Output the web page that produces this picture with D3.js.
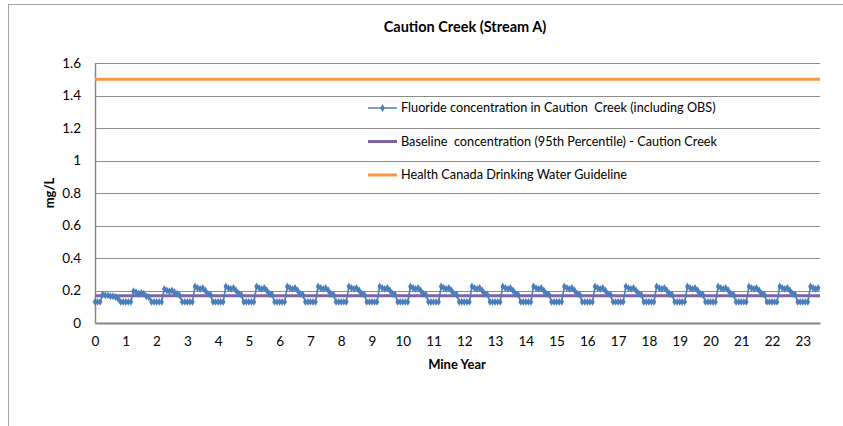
<!DOCTYPE html>
<html><head><meta charset="utf-8">
<script src="https://cdn.jsdelivr.net/npm/d3@7"></script>
<style>body{margin:0;background:#fff}svg{display:block}text{font-family:Lato,"Open Sans",sans-serif;fill:#000;white-space:pre}</style>
</head><body><svg id="c" width="843" height="426"></svg>
<script>
// Monthly fluoride concentration (mg/L), one row per mine year (12 months)
const fluorideByYear = [
  [0.13,0.13,0.13,0.175,0.17,0.17,0.165,0.165,0.16,0.15,0.13,0.13],
  [0.13,0.13,0.13,0.195,0.19,0.18,0.185,0.18,0.165,0.16,0.13,0.13],
  [0.13,0.13,0.13,0.21,0.2,0.195,0.2,0.19,0.18,0.17,0.13,0.13],
  [0.13,0.13,0.13,0.225,0.215,0.21,0.215,0.2,0.18,0.175,0.13,0.13],
  [0.13,0.13,0.13,0.225,0.215,0.21,0.215,0.2,0.18,0.175,0.13,0.13],
  [0.13,0.13,0.13,0.225,0.215,0.21,0.215,0.2,0.18,0.175,0.13,0.13],
  [0.13,0.13,0.13,0.225,0.215,0.21,0.215,0.2,0.18,0.175,0.13,0.13],
  [0.13,0.13,0.13,0.225,0.215,0.21,0.215,0.2,0.18,0.175,0.13,0.13],
  [0.13,0.13,0.13,0.225,0.215,0.21,0.215,0.2,0.18,0.175,0.13,0.13],
  [0.13,0.13,0.13,0.225,0.215,0.21,0.215,0.2,0.18,0.175,0.13,0.13],
  [0.13,0.13,0.13,0.225,0.215,0.21,0.215,0.2,0.18,0.175,0.13,0.13],
  [0.13,0.13,0.13,0.225,0.215,0.21,0.215,0.2,0.18,0.175,0.13,0.13],
  [0.13,0.13,0.13,0.225,0.215,0.21,0.215,0.2,0.18,0.175,0.13,0.13],
  [0.13,0.13,0.13,0.225,0.215,0.21,0.215,0.2,0.18,0.175,0.13,0.13],
  [0.13,0.13,0.13,0.225,0.215,0.21,0.215,0.2,0.18,0.175,0.13,0.13],
  [0.13,0.13,0.13,0.225,0.215,0.21,0.215,0.2,0.18,0.175,0.13,0.13],
  [0.13,0.13,0.13,0.225,0.215,0.21,0.215,0.2,0.18,0.175,0.13,0.13],
  [0.13,0.13,0.13,0.225,0.215,0.21,0.215,0.2,0.18,0.175,0.13,0.13],
  [0.13,0.13,0.13,0.225,0.215,0.21,0.215,0.2,0.18,0.175,0.13,0.13],
  [0.13,0.13,0.13,0.225,0.215,0.21,0.215,0.2,0.18,0.175,0.13,0.13],
  [0.13,0.13,0.13,0.225,0.215,0.21,0.215,0.2,0.18,0.175,0.13,0.13],
  [0.13,0.13,0.13,0.225,0.215,0.21,0.215,0.2,0.18,0.175,0.13,0.13],
  [0.13,0.13,0.13,0.225,0.215,0.21,0.215,0.2,0.18,0.175,0.13,0.13],
  [0.13,0.13,0.13,0.225,0.215,0.21,0.215]
];
const baselineValue = 0.168;
const guidelineValue = 1.5;
const xTicks = [0,1,2,3,4,5,6,7,8,9,10,11,12,13,14,15,16,17,18,19,20,21,22,23];
const yTicks = [0,0.2,0.4,0.6,0.8,1,1.2,1.4,1.6];
const yTickLabels = ["0","0.2","0.4","0.6","0.8","1","1.2","1.4","1.6"];
const seriesNames = [
  "Fluoride concentration in Caution  Creek (including OBS)",
  "Baseline  concentration (95th Percentile) - Caution Creek",
  "Health Canada Drinking Water Guideline"
];
const colors = {fluoride:"#4A7EBB", baseline:"#7F62A8", guideline:"#F79646", grid:"#8C8C8C", axis:"#868686"};

const points = [];
fluorideByYear.forEach((row, yr) => row.forEach((v, m) => points.push({x: yr + m/12, y: v})));

const svg = d3.select("#c");
const W = 843, H = 426;
const m = {l:95, r:820, t:63, b:323};
const x = d3.scaleLinear().domain([0, 23.56]).range([m.l, m.r]);
const y = d3.scaleLinear().domain([0, 1.6]).range([m.b, m.t]);

// chart frame
svg.append("rect").attr("x",8.5).attr("y",4.5).attr("width",W).attr("height",H)
  .attr("fill","#fff").attr("stroke","#A6A6A6").attr("stroke-width",1);

// gridlines
svg.append("g").selectAll("line").data(yTicks.slice(1)).join("line")
  .attr("x1",m.l).attr("x2",m.r)
  .attr("y1",d=>Math.round(y(d))+0.5).attr("y2",d=>Math.round(y(d))+0.5)
  .attr("stroke",colors.grid).attr("stroke-width",1);

// y axis
const yAxis = svg.append("g").attr("transform",`translate(${m.l},0)`)
  .call(d3.axisLeft(y).tickValues(yTicks).tickFormat((d,i)=>yTickLabels[i]).tickSize(0).tickPadding(14));
yAxis.select(".domain").attr("stroke",colors.axis).attr("stroke-width",1.5);
yAxis.selectAll("text").attr("font-size",13.5).attr("font-family","Lato,sans-serif").attr("fill","#000");

// x axis
const xAxis = svg.append("g").attr("transform",`translate(0,${m.b})`)
  .call(d3.axisBottom(x).tickValues(xTicks).tickFormat(d3.format("d")).tickSize(0).tickPadding(13));
xAxis.select(".domain").attr("stroke",colors.axis).attr("stroke-width",2);
xAxis.selectAll("text").attr("font-size",13.5).attr("font-family","Lato,sans-serif").attr("fill","#000");

// guideline and baseline
svg.append("line").attr("x1",x(0)).attr("x2",x(23.56)).attr("y1",y(guidelineValue)).attr("y2",y(guidelineValue))
  .attr("stroke",colors.guideline).attr("stroke-width",3);
svg.append("line").attr("x1",x(0)).attr("x2",x(23.56)).attr("y1",y(baselineValue)).attr("y2",y(baselineValue))
  .attr("stroke",colors.baseline).attr("stroke-width",3);

// fluoride series
svg.append("path").datum(points)
  .attr("d", d3.line().x(d=>x(d.x)).y(d=>y(d.y)))
  .attr("fill","none").attr("stroke",colors.fluoride).attr("stroke-width",1.6);
const diamond = d3.symbol().type(d3.symbolDiamond).size(18);
svg.append("g").selectAll("path").data(points).join("path")
  .attr("transform",d=>`translate(${x(d.x)},${y(d.y)})`)
  .attr("d",diamond).attr("fill",colors.fluoride);

// legend
const lg = svg.append("g");
const legendY = [108, 141.5, 175];
seriesNames.forEach((name,i)=>{
  const g = lg.append("g").attr("transform",`translate(368,${legendY[i]})`);
  const col = [colors.fluoride, colors.baseline, colors.guideline][i];
  g.append("line").attr("x1",0).attr("x2",29).attr("y1",0).attr("y2",0)
    .attr("stroke",col).attr("stroke-width", i===0?1.5:3);
  if(i===0) g.append("path").attr("transform","translate(14.5,0)").attr("d",diamond).attr("fill",col);
  g.append("text").attr("x",33).attr("y",0).attr("dy","0.35em").attr("font-size",12.7).text(name);
});

// titles
svg.append("text").attr("x",465).attr("y",27).attr("dy","0.35em").attr("text-anchor","middle")
  .attr("font-size",14.5).attr("font-weight","bold").text("Caution Creek (Stream A)");
svg.append("text").attr("x",457).attr("y",364).attr("dy","0.35em").attr("text-anchor","middle")
  .attr("font-size",13).attr("font-weight","bold").text("Mine Year");
svg.append("text").attr("transform","translate(49,193) rotate(-90)").attr("dy","0.35em").attr("text-anchor","middle")
  .attr("font-size",13).attr("font-weight","bold").text("mg/L");
</script></body></html>
